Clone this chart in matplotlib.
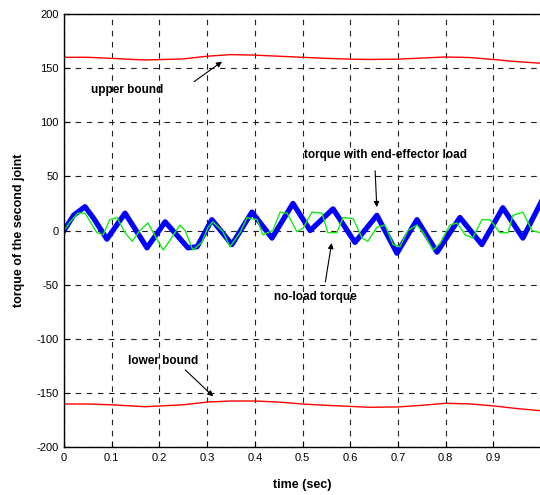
import numpy as np
import matplotlib
matplotlib.use("Agg")
import matplotlib.pyplot as plt

plt.rcParams['font.family'] = ['Liberation Sans', 'DejaVu Sans']
plt.rcParams['axes.unicode_minus'] = False

# bounds
bound_t = [0.0, 0.05, 0.1, 0.17, 0.25, 0.3, 0.35, 0.4, 0.45, 0.5, 0.55, 0.6, 0.64, 0.7, 0.75, 0.8, 0.85, 0.9, 0.95, 1.0]
upper = [160, 160, 159, 157.5, 158.5, 161, 162.5, 162, 161, 160, 159, 158.3, 158, 158.3, 159.3, 160.3, 159.8, 158, 156, 154.5]
lower = [-160.3, -160.3, -161, -162.8, -161, -158.5, -157.5, -157.5, -158.5, -160.3, -161.5, -162.5, -163.3, -163, -161.5, -159.6, -160.2, -162, -164.5, -166.5]

# torque with end-effector load (blue)
load_t = [0.0, 0.02, 0.044, 0.061, 0.09, 0.128, 0.174, 0.212, 0.26, 0.279, 0.31, 0.352,
          0.394, 0.436, 0.48, 0.516, 0.564, 0.61, 0.656, 0.698, 0.74, 0.782, 0.83,
          0.876, 0.92, 0.962, 1.0]
load_q = [0, 14, 22, 12, -8, 16, -16, 8, -16, -15, 10, -13,
          17, -7, 25, 0, 20, -11, 14, -21, 10, -20, 12,
          -13, 21, -7, 26]

# no-load torque (green)
free_t = [0.0, 0.013, 0.029, 0.044, 0.069, 0.082, 0.096, 0.111, 0.128, 0.143, 0.159, 0.176,
          0.187, 0.208, 0.222, 0.243, 0.254, 0.27, 0.289, 0.302, 0.312, 0.333, 0.348, 0.369,
          0.384, 0.405, 0.417, 0.438, 0.453, 0.468, 0.488, 0.501, 0.52, 0.541, 0.553, 0.572,
          0.585, 0.606, 0.625, 0.637, 0.656, 0.673, 0.69, 0.704, 0.721, 0.74, 0.753, 0.774,
          0.788, 0.809, 0.824, 0.841, 0.857, 0.876, 0.893, 0.914, 0.931, 0.941, 0.962, 0.981, 0.998]
free_q = [0, 8, 16, 16, -2, -4, 10, 12, -2, -10, 0, 7,
          -2, -18, -9, 5, 0, -18, -11, 3, 8, -1, -15, -2,
          12, 10, -4, 0, 17, 16, -1, 2, 17, 16, -2, -2,
          12, 11, -7, -10, 3, 5, -13, -15, 0, 5, -2, -18,
          -12, 5, 7, -4, -7, 10, 10, -2, -2, 14, 17, 0, -2]

fig = plt.figure(figsize=(5.4, 4.95), dpi=100)
ax = fig.add_axes([64 / 540, 1 - 447 / 495, 477 / 540, 433 / 495])

ax.plot(bound_t, upper, color='red', lw=1.0)
ax.plot(bound_t, lower, color='red', lw=1.0)
ax.plot(load_t, load_q, color='#0000ff', lw=3.8, solid_joinstyle='round')
ax.plot(free_t, free_q, color='#11ee11', lw=1.0)

ax.set_xlim(0, 1)
ax.set_ylim(-200, 200)
ax.set_xticks(np.arange(0, 1.0, 0.1))
ax.set_xticklabels(['0', '0.1', '0.2', '0.3', '0.4', '0.5', '0.6', '0.7', '0.8', '0.9'])
ax.set_yticks(np.arange(-200, 201, 50))
ax.tick_params(direction='in', length=4, labelsize=8, pad=4)
ax.grid(True, color='#222222', linestyle=(0, (5, 5)), lw=0.8)
for s in ax.spines.values():
    s.set_linewidth(1.0)

ax.set_xlabel('time (sec)', fontsize=9, fontweight='bold', labelpad=12)
ax.set_ylabel('torque of the second joint', fontsize=9, fontweight='bold', labelpad=8)

kw = dict(fontsize=8.5, fontweight='bold', ha='center', va='center')
aprops = dict(arrowstyle='-|>', color='black', lw=0.8, mutation_scale=8)
ax.text(0.132, 130, 'upper bound', **kw)
ax.annotate('', xy=(0.336, 157.5), xytext=(0.268, 136), arrowprops=aprops)
ax.text(0.673, 70, 'torque with end-effector load', **kw)
ax.annotate('', xy=(0.656, 19), xytext=(0.652, 57.7), arrowprops=aprops)
ax.text(0.528, -61.4, 'no-load torque', **kw)
ax.annotate('', xy=(0.562, -9), xytext=(0.547, -50), arrowprops=aprops)
ax.text(0.208, -121, 'lower bound', **kw)
ax.annotate('', xy=(0.317, -155), xytext=(0.25, -127), arrowprops=aprops)

fig.savefig('out.png', dpi=100)
